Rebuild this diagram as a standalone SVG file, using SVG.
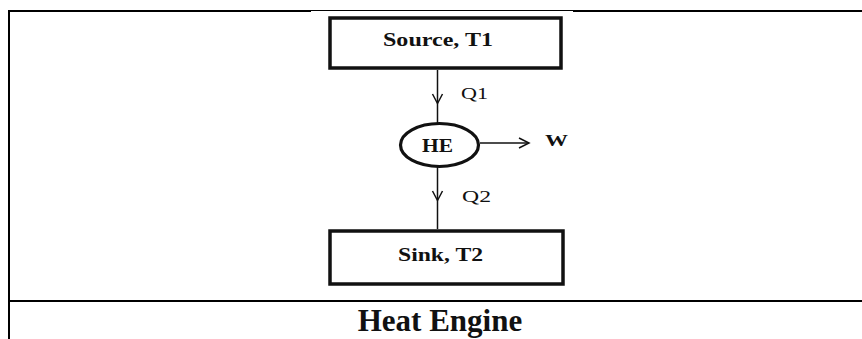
<svg xmlns="http://www.w3.org/2000/svg" width="862" height="339" viewBox="0 0 862 339">
<style>
.frame{stroke:#000;stroke-width:2;fill:none}
.box{fill:#fff;stroke:#111;stroke-width:3.5}
.conn{stroke:#111;stroke-width:1.5;fill:none}
.t{font-family:"Liberation Serif","Times New Roman",serif;fill:#111}
.b{font-weight:bold}
</style>
<rect width="862" height="339" fill="#fff"/>
<g id="frame">
<line class="frame" x1="8" y1="11" x2="311" y2="11"/>
<line x1="311" y1="10.5" x2="573" y2="10.5" stroke="#000" stroke-width="1"/>
<line class="frame" x1="573" y1="11" x2="862" y2="11"/>
<line class="frame" x1="9" y1="10" x2="9" y2="339"/>
<line class="frame" x1="8" y1="301" x2="862" y2="301"/>
</g>
<g id="connectors">
<line class="conn" x1="437.5" y1="70" x2="437.5" y2="124"/>
<polyline class="conn" points="432.5,94 437.5,103.5 442.5,94"/>
<line class="conn" x1="437.5" y1="166" x2="437.5" y2="229"/>
<polyline class="conn" points="432.5,191 437.5,200.5 442.5,191"/>
<line class="conn" x1="480" y1="143" x2="529" y2="143"/>
<polyline class="conn" points="519,138 529,143 519,148"/>
<text class="t" x="461" y="99" font-size="17.5" textLength="27" lengthAdjust="spacingAndGlyphs">Q1</text>
<text class="t" x="462" y="202" font-size="17.5" textLength="29" lengthAdjust="spacingAndGlyphs">Q2</text>
<text class="t b" x="545" y="146" font-size="17" textLength="23" lengthAdjust="spacingAndGlyphs">W</text>
</g>
<g id="source">
<rect class="box" x="330" y="18" width="231" height="50"/>
<text class="t b" x="383" y="46" font-size="19.5" textLength="110" lengthAdjust="spacingAndGlyphs">Source, T1</text>
</g>
<g id="he">
<ellipse cx="439.5" cy="145" rx="39" ry="21.5" fill="#fff" stroke="#111" stroke-width="3.2"/>
<text class="t b" x="422" y="151.5" font-size="18" textLength="31" lengthAdjust="spacingAndGlyphs">HE</text>
</g>
<g id="sink">
<rect class="box" x="330" y="231" width="233" height="53"/>
<text class="t b" x="398" y="261" font-size="19.5" textLength="85" lengthAdjust="spacingAndGlyphs">Sink, T2</text>
</g>
<text class="t b" x="440" y="331" font-size="31" text-anchor="middle">Heat Engine</text>
</svg>
